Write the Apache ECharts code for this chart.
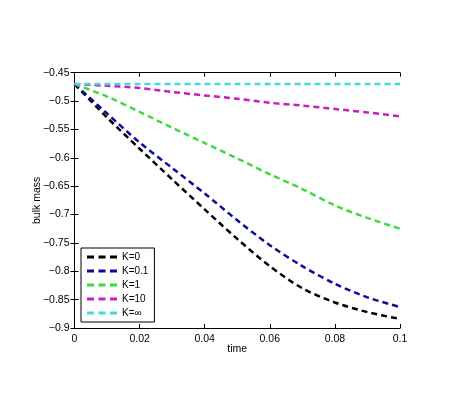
<!DOCTYPE html>
<html>
<head>
<meta charset="utf-8">
<script src="https://cdn.jsdelivr.net/npm/echarts@6/dist/echarts.min.js"></script>
<style>
  html, body { margin: 0; padding: 0; background: #fff; }
  #chart { width: 476px; height: 393px; }
</style>
</head>
<body>
<div id="chart"></div>
<script>
// time samples
var times = [0, 0.01, 0.02, 0.03, 0.04, 0.05, 0.06, 0.07, 0.08, 0.09, 0.1]

// bulk mass per K
var massK0 = [-0.47, -0.529, -0.584, -0.638, -0.691, -0.743, -0.791, -0.830, -0.855, -0.872, -0.884]
var massK01 = [-0.47, -0.522, -0.573, -0.618, -0.663, -0.710, -0.754, -0.791, -0.822, -0.846, -0.863]
var massK1 = [-0.47, -0.492, -0.519, -0.547, -0.574, -0.601, -0.629, -0.655, -0.684, -0.706, -0.725]
var massK10 = [-0.47, -0.473, -0.477, -0.484, -0.490, -0.496, -0.503, -0.508, -0.514, -0.520, -0.527]
var massKinf = [-0.47, -0.47, -0.47, -0.47, -0.47, -0.47, -0.47, -0.47, -0.47, -0.47, -0.47]

var names = ['K=0', 'K=0.1', 'K=1', 'K=10', 'K=\u221e']
var colors = ['#000000', '#0c0c9a', '#3ddc3d', '#c61ec6', '#44dada']
var values = [massK0, massK01, massK1, massK10, massKinf]

// three short dashes for the legend sample
var dashIcon = 'path://M0,0h7v3h-7z M11.5,0h7v3h-7z M23,0h7v3h-7z'

var fmt = function (v) {
  return String(+v.toFixed(2)).replace('-', '\u2212')
}

var chart = echarts.init(document.getElementById('chart'))

var axisFont = { fontFamily: 'Liberation Sans', fontSize: 10.5, color: '#000' }

chart.setOption({
  animation: false,
  backgroundColor: '#fff',
  grid: { left: 74.5, right: 76, top: 72.7, bottom: 65 },
  legend: {
    left: 81,
    top: 248,
    orient: 'vertical',
    icon: dashIcon,
    itemWidth: 30,
    itemHeight: 3,
    itemGap: 0,
    itemTextGap: 3,
    padding: [2, 6, 2, 6],
    borderColor: '#000',
    borderWidth: 1,
    backgroundColor: '#fff',
    textStyle: { fontFamily: 'Liberation Sans', fontSize: 10, lineHeight: 14, color: '#000' },
    data: names
  },
  xAxis: [
    {
      type: 'value',
      min: 0,
      max: 0.1,
      interval: 0.02,
      name: 'time',
      nameLocation: 'middle',
      nameGap: 16,
      nameMoveOverlap: false,
      nameTextStyle: axisFont,
      axisLine: { lineStyle: { color: '#000', width: 1 } },
      axisTick: { inside: true, length: 4, lineStyle: { color: '#000' } },
      axisLabel: Object.assign({ formatter: fmt, margin: 6 }, axisFont),
      splitLine: { show: false }
    },
    {
      type: 'value',
      position: 'top',
      min: 0,
      max: 0.1,
      interval: 0.02,
      axisLine: { lineStyle: { color: '#000', width: 1 } },
      axisTick: { inside: true, length: 4, lineStyle: { color: '#000' } },
      axisLabel: { show: false },
      splitLine: { show: false }
    }
  ],
  yAxis: [
    {
      type: 'value',
      min: -0.9,
      max: -0.45,
      interval: 0.05,
      name: 'bulk mass',
      nameLocation: 'middle',
      nameGap: 32,
      nameMoveOverlap: false,
      nameTextStyle: axisFont,
      axisLine: { show: true, lineStyle: { color: '#000', width: 1 } },
      axisTick: { show: true, inside: true, length: 4, lineStyle: { color: '#000' } },
      axisLabel: Object.assign({ formatter: fmt, margin: 5 }, axisFont),
      splitLine: { show: false }
    },
    {
      type: 'value',
      position: 'right',
      min: -0.9,
      max: -0.45,
      interval: 0.05,
      axisLine: { show: true, lineStyle: { color: '#000', width: 1 } },
      axisTick: { show: true, inside: true, length: 4, lineStyle: { color: '#000' } },
      axisLabel: { show: false },
      splitLine: { show: false }
    }
  ],
  series: names.map(function (n, i) {
    return {
      name: n,
      type: 'line',
      smooth: 0.3,
      symbol: 'none',
      color: colors[i],
      lineStyle: { color: colors[i], width: 2.5, type: [6, 4] },
      data: times.map(function (t, j) { return [t, values[i][j]] })
    }
  })
})
</script>
</body>
</html>
